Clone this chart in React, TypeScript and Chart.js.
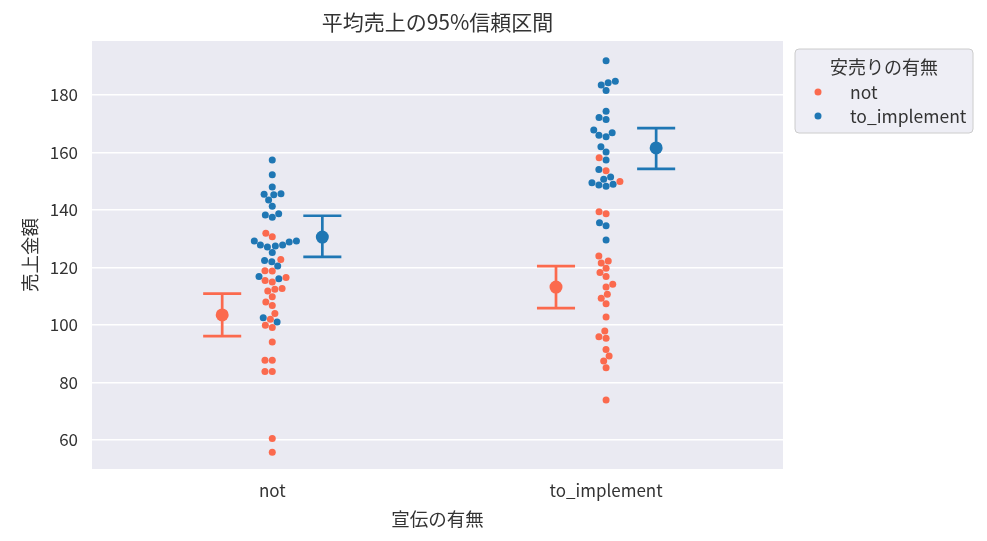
import React, { useEffect, useRef } from "react";
import { Chart, registerables } from "chart.js";

Chart.register(...registerables);

// x: 宣伝の有無, hue: 安売りの有無
const categories = ["not", "to_implement"];
const hues = ["not", "to_implement"];
const yTicks = [60, 80, 100, 120, 140, 160, 180];

const salesAdNotSaleNot = [
  131.9, 130.7, 122.8, 118.8, 118.9, 116.5, 115.5, 115.0, 112.7, 112.4, 111.8, 109.8, 108.0,
  106.8, 104.0, 102.0, 99.9, 99.1, 94.1, 87.7, 87.7, 83.8, 83.8, 60.5, 55.7,
];
const salesAdNotSaleImpl = [
  157.4, 152.3, 148.0, 145.7, 145.5, 145.3, 143.5, 141.3, 138.3, 137.5, 138.7, 129.2, 129.2,
  128.9, 127.8, 127.8, 127.5, 127.1, 125.2, 122.4, 122.0, 120.5, 116.9, 116.1, 102.5, 101.0,
];
const salesAdImplSaleNot = [
  158.2, 153.7, 149.9, 139.4, 138.7, 124.0, 122.3, 121.6, 119.7, 118.3, 116.9, 114.2, 113.2,
  110.7, 109.3, 107.4, 102.8, 97.9, 95.9, 95.4, 91.5, 89.2, 87.5, 85.1, 73.9,
];
const salesAdImplSaleImpl = [
  191.9, 184.8, 184.3, 183.5, 181.6, 174.4, 172.2, 171.5, 167.8, 166.9, 166.0, 165.5, 162.0,
  160.2, 157.4, 154.1, 151.5, 150.7, 149.5, 148.7, 148.3, 149.0, 135.6, 134.5, 129.6,
];

// pointplot: mean and 95% CI per category
const meanSaleNot = [103.5, 113.2];
const meanSaleImpl = [130.6, 161.6];
const ciLowSaleNot = [96.1, 105.9];
const ciHighSaleNot = [110.9, 120.5];
const ciLowSaleImpl = [123.7, 154.3];
const ciHighSaleImpl = [138.0, 168.5];

const ORANGE = "#fb6a4e";
const BLUE = "#1f77b4";
const TEXT = "#333333";
const FONT = '"Noto Sans CJK JP", "Noto Sans", sans-serif';

const X_MIN = -0.54;
const X_MAX = 1.53;
const Y_MIN = 49.9;
const Y_MAX = 198.8;
const DODGE = 0.15;
const CAP = 0.057;

// approx pixel scale of the plot area, used for the swarm layout
const PX_PER_X = 691 / (X_MAX - X_MIN);
const PX_PER_Y = 428 / (Y_MAX - Y_MIN);
const DOT = 7.3;

// seaborn-like beeswarm: returns x offsets in pixels
function beeswarm(values: number[]): number[] {
  const ys = values.map((v) => v * PX_PER_Y);
  const order = ys.map((_, i) => i).sort((a, b) => ys[a] - ys[b]);
  const placed: { x: number; y: number }[] = [];
  const out = new Array(ys.length).fill(0);
  for (const i of order) {
    const y = ys[i];
    const near = placed.filter((p) => Math.abs(p.y - y) < DOT);
    const left: number[] = [];
    const right: number[] = [];
    near.forEach((n) => {
      const dx = Math.sqrt(DOT * DOT - (n.y - y) ** 2);
      left.push(n.x - dx);
      right.push(n.x + dx);
    });
    const cands = [0, ...left, ...right].sort((a, b) => Math.abs(a) - Math.abs(b));
    let chosen = 0;
    for (const c of cands) {
      if (near.every((n) => (n.x - c) ** 2 + (n.y - y) ** 2 >= DOT * DOT - 1e-6)) {
        chosen = c;
        break;
      }
    }
    placed.push({ x: chosen, y });
    out[i] = chosen;
  }
  return out;
}

function swarmPoints(groups: number[][][]) {
  // groups[cat][hue] -> values; returns points per hue
  const byHue: { x: number; y: number }[][] = hues.map(() => []);
  groups.forEach((hueVals, cat) => {
    const all = hueVals.flat();
    const offs = beeswarm(all);
    let k = 0;
    hueVals.forEach((vals, h) => {
      vals.forEach((v) => {
        byHue[h].push({ x: cat + offs[k] / PX_PER_X, y: v });
        k++;
      });
    });
  });
  return byHue;
}

const decor = {
  id: "decor",
  beforeDraw(chart: any) {
    const { ctx, chartArea: a } = chart;
    ctx.save();
    ctx.fillStyle = "#eaeaf2";
    ctx.fillRect(a.left, a.top, a.right - a.left, a.bottom - a.top);
    ctx.restore();
  },
  beforeDatasetsDraw(chart: any) {
    const { ctx } = chart;
    const xs = chart.scales.x;
    const ys = chart.scales.y;
    const bars = [
      { off: -DODGE, lo: ciLowSaleNot, hi: ciHighSaleNot, color: ORANGE },
      { off: DODGE, lo: ciLowSaleImpl, hi: ciHighSaleImpl, color: BLUE },
    ];
    ctx.save();
    ctx.lineWidth = 2.7;
    bars.forEach((b) => {
      ctx.strokeStyle = b.color;
      categories.forEach((_, i) => {
        const cx = xs.getPixelForValue(i + b.off);
        const x0 = xs.getPixelForValue(i + b.off - CAP);
        const x1 = xs.getPixelForValue(i + b.off + CAP);
        const y0 = ys.getPixelForValue(b.lo[i]);
        const y1 = ys.getPixelForValue(b.hi[i]);
        ctx.beginPath();
        ctx.moveTo(cx, y0);
        ctx.lineTo(cx, y1);
        ctx.moveTo(x0, y0);
        ctx.lineTo(x1, y0);
        ctx.moveTo(x0, y1);
        ctx.lineTo(x1, y1);
        ctx.stroke();
      });
    });
    ctx.restore();
  },
  afterDraw(chart: any) {
    const { ctx, chartArea: a } = chart;
    const midX = (a.left + a.right) / 2;
    ctx.save();
    ctx.fillStyle = TEXT;
    ctx.textAlign = "center";
    ctx.textBaseline = "middle";
    ctx.font = `21px ${FONT}`;
    ctx.fillText("平均売上の95%信頼区間", midX, 22);
    ctx.font = `18.5px ${FONT}`;
    ctx.fillText("宣伝の有無", midX, 519);
    ctx.save();
    ctx.translate(30, (a.top + a.bottom) / 2);
    ctx.rotate(-Math.PI / 2);
    ctx.fillText("売上金額", 0, 0);
    ctx.restore();

    // legend
    const lx = a.right + 12;
    const ly = 49;
    const lw = 178;
    const lh = 84;
    ctx.beginPath();
    ctx.roundRect(lx, ly, lw, lh, 4);
    ctx.fillStyle = "rgba(234,234,242,0.8)";
    ctx.fill();
    ctx.strokeStyle = "#cccccc";
    ctx.lineWidth = 1;
    ctx.stroke();
    ctx.fillStyle = TEXT;
    ctx.font = `18px ${FONT}`;
    ctx.fillText("安売りの有無", lx + lw / 2, ly + 18);
    ctx.textAlign = "left";
    ctx.font = `17.5px ${FONT}`;
    [ORANGE, BLUE].forEach((c, i) => {
      const y = ly + 43 + i * 24;
      ctx.beginPath();
      ctx.arc(lx + 23, y, 3.5, 0, Math.PI * 2);
      ctx.fillStyle = c;
      ctx.fill();
      ctx.fillStyle = TEXT;
      ctx.fillText(hues[i], lx + 55, y);
    });
    ctx.restore();
  },
};

const App: React.FC = () => {
  const chartRef = useRef<HTMLCanvasElement>(null);

  useEffect(() => {
    const ctx = chartRef.current?.getContext("2d");
    if (!ctx) return;
    const [swarmNot, swarmImpl] = swarmPoints([
      [salesAdNotSaleNot, salesAdNotSaleImpl],
      [salesAdImplSaleNot, salesAdImplSaleImpl],
    ]);
    const chart = new Chart(ctx, {
      type: "scatter",
      data: {
        datasets: [
          {
            label: hues[0],
            data: swarmNot,
            backgroundColor: ORANGE,
            borderWidth: 0,
            pointRadius: 3.5,
          },
          {
            label: hues[1],
            data: swarmImpl,
            backgroundColor: BLUE,
            borderWidth: 0,
            pointRadius: 3.5,
          },
          {
            label: "mean " + hues[0],
            data: meanSaleNot.map((m, i) => ({ x: i - DODGE, y: m })),
            backgroundColor: ORANGE,
            borderWidth: 0,
            pointRadius: 6.5,
          },
          {
            label: "mean " + hues[1],
            data: meanSaleImpl.map((m, i) => ({ x: i + DODGE, y: m })),
            backgroundColor: BLUE,
            borderWidth: 0,
            pointRadius: 6.5,
          },
        ],
      },
      options: {
        animation: false,
        responsive: true,
        maintainAspectRatio: false,
        layout: { padding: { top: 41, right: 204, bottom: 0, left: 0 } },
        plugins: {
          legend: { display: false },
          title: { display: false },
          tooltip: { enabled: false },
        },
        scales: {
          x: {
            type: "linear",
            min: X_MIN,
            max: X_MAX,
            afterBuildTicks: (s: any) => {
              s.ticks = categories.map((_, i) => ({ value: i }));
            },
            afterFit: (s: any) => {
              s.height = 72;
            },
            ticks: {
              callback: (v: any) => categories[v as number] ?? "",
              color: TEXT,
              font: { family: FONT, size: 17 },
              padding: 11,
            },
            grid: { display: false, drawTicks: false },
            border: { display: false },
          },
          y: {
            type: "linear",
            min: Y_MIN,
            max: Y_MAX,
            afterBuildTicks: (s: any) => {
              s.ticks = yTicks.map((v) => ({ value: v }));
            },
            afterFit: (s: any) => {
              s.width = 92;
            },
            ticks: {
              color: TEXT,
              font: { family: FONT, size: 17 },
              padding: 14,
            },
            grid: { color: "#ffffff", lineWidth: 1.5, drawTicks: false },
            border: { display: false },
          },
        },
      },
      plugins: [decor],
    });
    return () => chart.destroy();
  }, []);

  return (
    <div
      style={{
        position: "fixed",
        left: 0,
        top: 0,
        width: 987,
        height: 541,
        background: "#ffffff",
      }}
    >
      <canvas ref={chartRef} />
    </div>
  );
};

export default App;
